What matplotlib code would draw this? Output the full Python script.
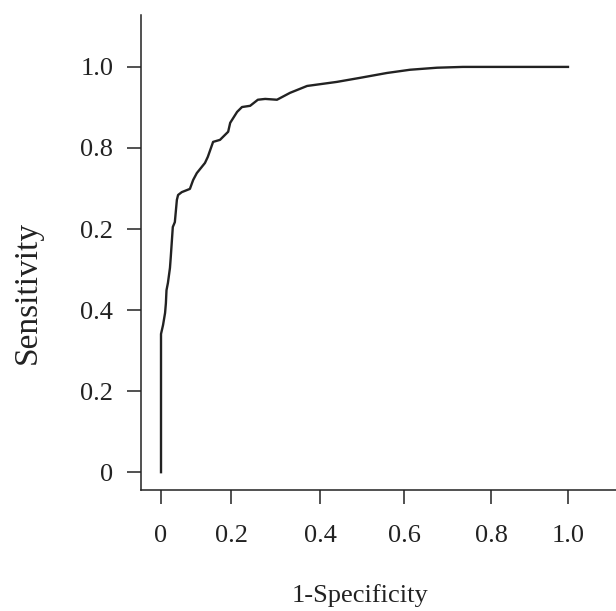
import matplotlib.pyplot as plt

plt.rcParams['font.family'] = ['Liberation Serif', 'DejaVu Serif']

# ROC curve points
fpr = [0.0, 0.0, 0.005, 0.010, 0.012, 0.0135, 0.017, 0.022, 0.024, 0.029, 0.034,
       0.039, 0.042, 0.051, 0.071, 0.079, 0.088, 0.108, 0.115, 0.128, 0.145,
       0.165, 0.170, 0.187, 0.199, 0.219, 0.238, 0.256, 0.285, 0.317, 0.359,
       0.432, 0.489, 0.555, 0.612, 0.678, 0.742, 1.0]
tpr = [0.0, 0.341, 0.363, 0.393, 0.417, 0.449, 0.467, 0.504, 0.531, 0.605, 0.617,
       0.672, 0.684, 0.691, 0.699, 0.721, 0.738, 0.763, 0.778, 0.815, 0.820,
       0.840, 0.862, 0.889, 0.901, 0.904, 0.919, 0.921, 0.919, 0.936, 0.953,
       0.963, 0.973, 0.985, 0.993, 0.998, 1.0, 1.0]

# tick positions as drawn in the original (x ticks are unevenly placed)
xtick_pos = [0.0, 0.172, 0.391, 0.597, 0.811, 1.0]
xtick_labels = ['0', '0.2', '0.4', '0.6', '0.8', '1.0']
ytick_pos = [0.0, 0.2, 0.4, 0.6, 0.8, 1.0]
ytick_labels = ['0', '0.2', '0.4', '0.2', '0.8', '1.0']

fig = plt.figure(figsize=(6.16, 6.11), dpi=100)
ax = fig.add_axes([0.229, 0.198, 0.771, 0.7774])

ax.plot(fpr, tpr, color='#222222', linewidth=1.7, solid_joinstyle='round')

ax.set_xlim(-0.049, 1.118)
ax.set_ylim(-0.044, 1.128)
ax.spines['top'].set_visible(False)
ax.spines['right'].set_visible(False)
for s in ['left', 'bottom']:
    ax.spines[s].set_linewidth(1.1)
    ax.spines[s].set_color('#222222')

ax.set_xticks(xtick_pos)
ax.set_xticklabels(xtick_labels)
ax.set_yticks(ytick_pos)
ax.set_yticklabels(ytick_labels)
ax.tick_params(axis='both', direction='out', length=10, width=1.1,
               color='#222222', labelsize=19, labelcolor='#222222')
ax.tick_params(axis='x', pad=15)
ax.tick_params(axis='y', pad=10)

ax.set_xlabel('1-Specificity', fontsize=19, color='#222222', va='center')
ax.xaxis.set_label_coords(0.461, -0.223)
ax.set_ylabel('Sensitivity', fontsize=24, color='#222222', va='center')
ax.yaxis.set_label_coords(-0.24, 0.417)

fig.savefig('out.png', dpi=100)
